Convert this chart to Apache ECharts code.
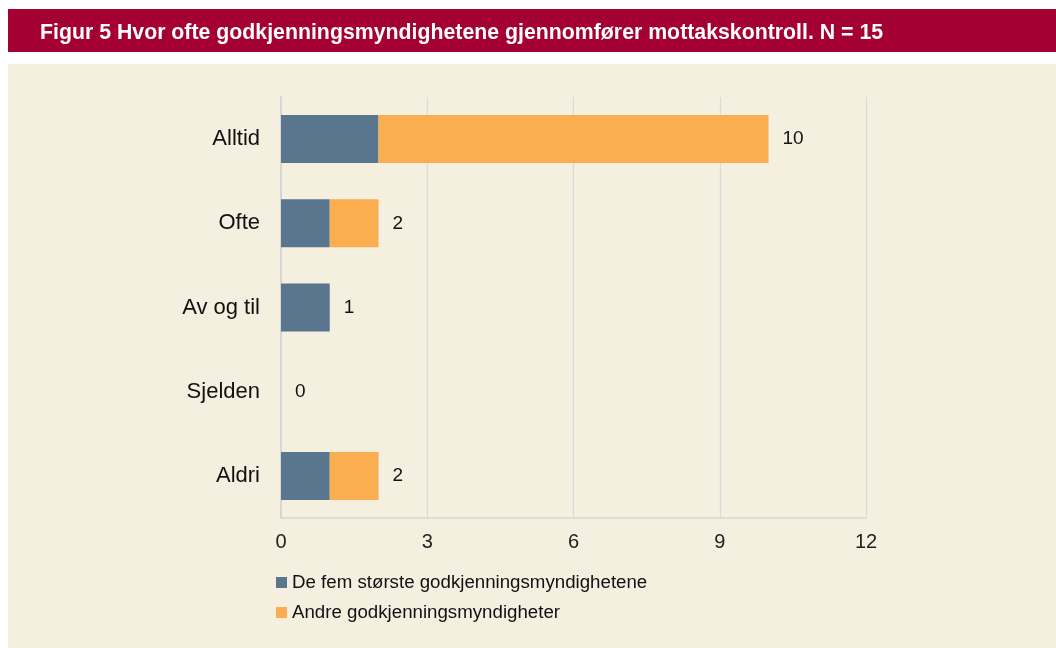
<!DOCTYPE html>
<html>
<head>
<meta charset="utf-8">
<script src="https://cdn.jsdelivr.net/npm/echarts@6/dist/echarts.min.js"></script>
<style>
html,body{margin:0;padding:0;background:#ffffff;}
#chart{width:1056px;height:648px;}
</style>
</head>
<body>
<div id="chart"></div>
<script>
const categories = ['Alltid', 'Ofte', 'Av og til', 'Sjelden', 'Aldri'];
const seriesNames = ['De fem største godkjenningsmyndighetene', 'Andre godkjenningsmyndigheter'];
const largest = [2, 1, 1, 0, 1];
const others = [8, 1, 0, 0, 1];
const totals = [10, 2, 1, 0, 2];
const xTicks = [0, 3, 6, 9, 12];

const chart = echarts.init(document.getElementById('chart'));
const font = '"Liberation Sans", Arial, sans-serif';
chart.setOption({
  animation: false,
  textStyle: { fontFamily: font },
  graphic: [
    { type: 'rect', silent: true, z: -10, shape: { x: 8, y: 9, width: 1048, height: 43 }, style: { fill: '#A50034' } },
    { type: 'rect', silent: true, z: -10, shape: { x: 8, y: 64, width: 1048, height: 584 }, style: { fill: '#F5EFE0' } }
  ],
  title: {
    text: 'Figur 5 Hvor ofte godkjenningsmyndighetene gjennomfører mottakskontroll. N = 15',
    left: 35, top: 18,
    textStyle: { color: '#ffffff', fontSize: 21.3, fontWeight: 'bold', fontFamily: font }
  },
  legend: {
    orient: 'vertical', left: 271, top: 568,
    itemWidth: 11, itemHeight: 11, itemGap: 11,
    icon: 'rect',
    textStyle: { fontSize: 18.7, color: '#111', fontFamily: font },
    data: seriesNames
  },
  grid: { left: 281, right: 190, top: 97, bottom: 130, containLabel: false },
  xAxis: {
    type: 'value', min: 0, max: 12, interval: 3,
    axisLine: { show: true, lineStyle: { color: '#d9d9d9', width: 1.5 } },
    axisTick: { show: false },
    splitLine: { show: true, lineStyle: { color: '#dadada', width: 1.2 } },
    axisLabel: { fontSize: 20, color: '#222', margin: 14, fontFamily: font,
      formatter: v => xTicks.includes(v) ? String(v) : '' }
  },
  yAxis: {
    type: 'category', data: categories, inverse: true,
    axisLine: { show: true, lineStyle: { color: '#d6d6d6', width: 2 } },
    axisTick: { show: false },
    axisLabel: { fontSize: 22, color: '#111', margin: 21, fontFamily: font }
  },
  series: [
    {
      name: seriesNames[0], type: 'bar', stack: 'total', data: largest,
      barWidth: 48, itemStyle: { color: '#5A768F' }
    },
    {
      name: seriesNames[1], type: 'bar', stack: 'total', data: others,
      barWidth: 48, itemStyle: { color: '#FAAE4F' },
      label: {
        show: true, position: 'right', distance: 14,
        fontSize: 19, color: '#111', fontFamily: font,
        formatter: p => String(totals[p.dataIndex])
      }
    }
  ]
});
</script>
</body>
</html>
